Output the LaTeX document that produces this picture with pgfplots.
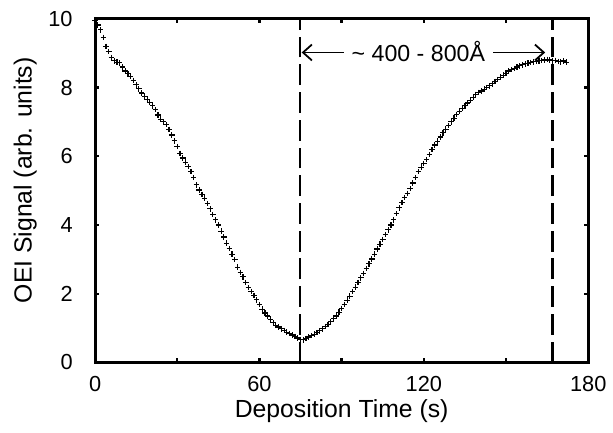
\documentclass[border=0pt]{standalone}
\usepackage{fontspec}
\setmainfont{Liberation Sans}
\usepackage{pgfplots}
\pgfplotsset{compat=1.18}
\usetikzlibrary{arrows.meta}

% OEI signal vs deposition time (1 s steps)
\pgfplotstableread{
t y
0 9.95
1 9.82
2 9.68
3 9.46
4 9.20
5 9.05
6 8.88
7 8.78
8 8.74
9 8.72
10 8.60
11 8.48
12 8.40
13 8.32
14 8.21
15 8.08
16 7.96
17 7.84
18 7.75
19 7.66
20 7.57
21 7.47
22 7.36
23 7.20
24 7.08
25 7.00
26 6.92
27 6.78
28 6.62
29 6.45
30 6.28
31 6.08
32 5.95
33 5.83
34 5.70
35 5.55
36 5.38
37 5.17
38 5.02
39 4.89
40 4.78
41 4.62
42 4.47
43 4.30
44 4.15
45 4.00
46 3.82
47 3.65
48 3.47
49 3.31
50 3.15
51 2.99
52 2.77
53 2.62
54 2.49
55 2.33
56 2.18
57 2.07
58 1.95
59 1.82
60 1.68
61 1.55
62 1.44
63 1.35
64 1.26
65 1.16
66 1.08
67 1.03
68 0.98
69 0.93
70 0.88
71 0.84
72 0.80
73 0.76
74 0.71
75 0.67
76 0.66
77 0.70
78 0.74
79 0.78
80 0.82
81 0.87
82 0.92
83 0.98
84 1.05
85 1.11
86 1.19
87 1.27
88 1.35
89 1.46
90 1.57
91 1.68
92 1.81
93 1.93
94 2.06
95 2.19
96 2.33
97 2.46
98 2.59
99 2.73
100 2.87
101 3.01
102 3.15
103 3.30
104 3.44
105 3.58
106 3.72
107 3.86
108 4.00
109 4.15
110 4.33
111 4.50
112 4.66
113 4.80
114 4.92
115 5.06
116 5.22
117 5.38
118 5.55
119 5.68
120 5.79
121 5.90
122 6.05
123 6.20
124 6.33
125 6.44
126 6.56
127 6.68
128 6.79
129 6.90
130 7.00
131 7.11
132 7.22
133 7.31
134 7.39
135 7.47
136 7.55
137 7.63
138 7.71
139 7.80
140 7.86
141 7.90
142 7.95
143 8.00
144 8.05
145 8.11
146 8.18
147 8.24
148 8.30
149 8.36
150 8.42
151 8.48
152 8.52
153 8.56
154 8.60
155 8.63
156 8.66
157 8.69
158 8.71
159 8.73
160 8.75
161 8.76
162 8.78
163 8.79
164 8.80
165 8.82
166 8.80
167 8.78
168 8.79
169 8.76
170 8.75
171 8.77
172 8.74
}\oeidata

\begin{document}
\begin{tikzpicture}
\begin{axis}[
  scale only axis,
  width=249pt, height=173.5pt,
  xmin=0, xmax=180, ymin=0, ymax=10,
  xtick={0,60,120,180},
  minor xtick={30,90,150},
  ytick={0,2,4,6,8,10},
  tick align=inside,
  major tick length=2.2pt, minor tick length=2.2pt,
  every tick/.style={black, line width=1.2pt},
  axis line style={line width=1.5pt},
  /pgf/number format/assume math mode=true,
  tick label style={font=\fontsize{11}{13}\selectfont},
  xticklabel shift=3.3pt,
  yticklabel shift=7.8pt,
  xlabel={Deposition Time (s)},
  ylabel={OEI Signal (arb. units)},
  label style={font=\fontsize{12.5}{15}\selectfont},
  xlabel style={at={(axis description cs:0.5,-0.161)}, anchor=base},
  ylabel style={at={(axis description cs:-0.1285,0.53)}, anchor=base},
]
\addplot[only marks, mark=+, mark size=1.4pt, black, mark options={line width=0.6pt}]
  table[x=t, y=y] {\oeidata};

\draw[line width=1.4pt, dash pattern=on 10.5pt off 3.5pt] (axis cs:74.8,0) -- (axis cs:74.8,10);
\draw[line width=1.4pt, dash pattern=on 10.5pt off 3.5pt] (axis cs:167,0) -- (axis cs:167,10);
\draw[line width=0.9pt, -{Straight Barb[length=4.5pt, width=8pt]}] (axis cs:90.7,9.02) -- (axis cs:75.4,9.02);
\draw[line width=0.9pt, -{Straight Barb[length=4.5pt, width=8pt]}] (axis cs:145.3,9.02) -- (axis cs:164.3,9.02);
\node[font=\fontsize{11.7}{14}\selectfont, inner sep=0pt] at (axis cs:118,9.06) {\textasciitilde{} 400 - 800Å};

\coordinate (ll) at (rel axis cs:0,0);
\coordinate (ur) at (rel axis cs:1,1);
\end{axis}
\path ([shift={(-48pt,-35.5pt)}]ll) rectangle ([shift={(9.5pt,9.5pt)}]ur);
\end{tikzpicture}
\end{document}
